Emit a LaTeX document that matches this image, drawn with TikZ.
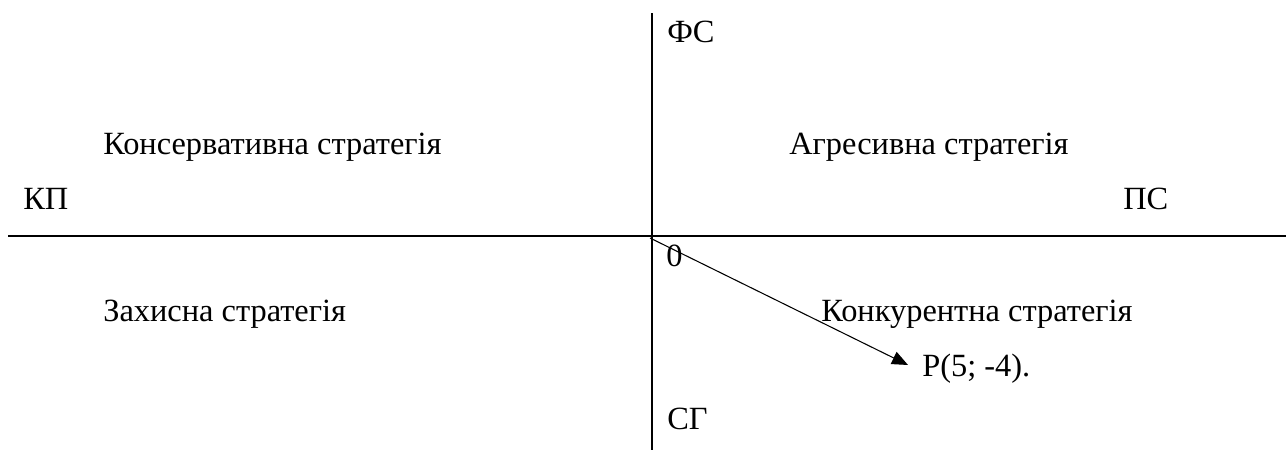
\documentclass[tikz,border=0pt]{standalone}
\usepackage{fontspec}
\setmainfont{Liberation Serif}
\usetikzlibrary{arrows.meta}

\begin{document}
\begin{tikzpicture}[x=0.75pt, y=-0.75pt, line cap=butt,
    lbl/.style={anchor=base west, inner sep=0pt, font=\fontsize{24.3}{28}\selectfont}]
  \useasboundingbox (0,0) rectangle (1286,450);
  % Axis ends.
  \coordinate (top) at (652,13);
  \coordinate (bottom) at (652,450);
  \coordinate (left) at (8,236);
  \coordinate (right) at (1286,236);
  \coordinate (origin) at (650,238);
  \coordinate (pt) at (908,365);
  % Axes.
  \draw[line width=1.4pt] (top) -- (bottom);
  \draw[line width=1.4pt] (left) -- (right);
  % Vector to the point.
  \draw[line width=0.8pt, -{Triangle[length=12pt, width=10pt]}] (origin) -- (pt);
  % Axis labels.
  \node[lbl] (fs) at (667,42) {ФС};
  \node[lbl] (sg) at (667,429) {СГ};
  \node[lbl] (kp) at (23,209) {КП};
  \node[lbl] (ps) at (1123,209) {ПС};
  \node[lbl] (zero) at (666,266) {0};
  % Quadrants.
  \node[lbl] (cons) at (103,154) {Консервативна стратегія};
  \node[lbl] (aggr) at (789,154) {Агресивна стратегія};
  \node[lbl] (prot) at (103,321) {Захисна стратегія};
  \node[lbl] (comp) at (821,321) {Конкурентна стратегія};
  \node[lbl] (pnt) at (922,376) {P(5; -4).};
\end{tikzpicture}
\end{document}
